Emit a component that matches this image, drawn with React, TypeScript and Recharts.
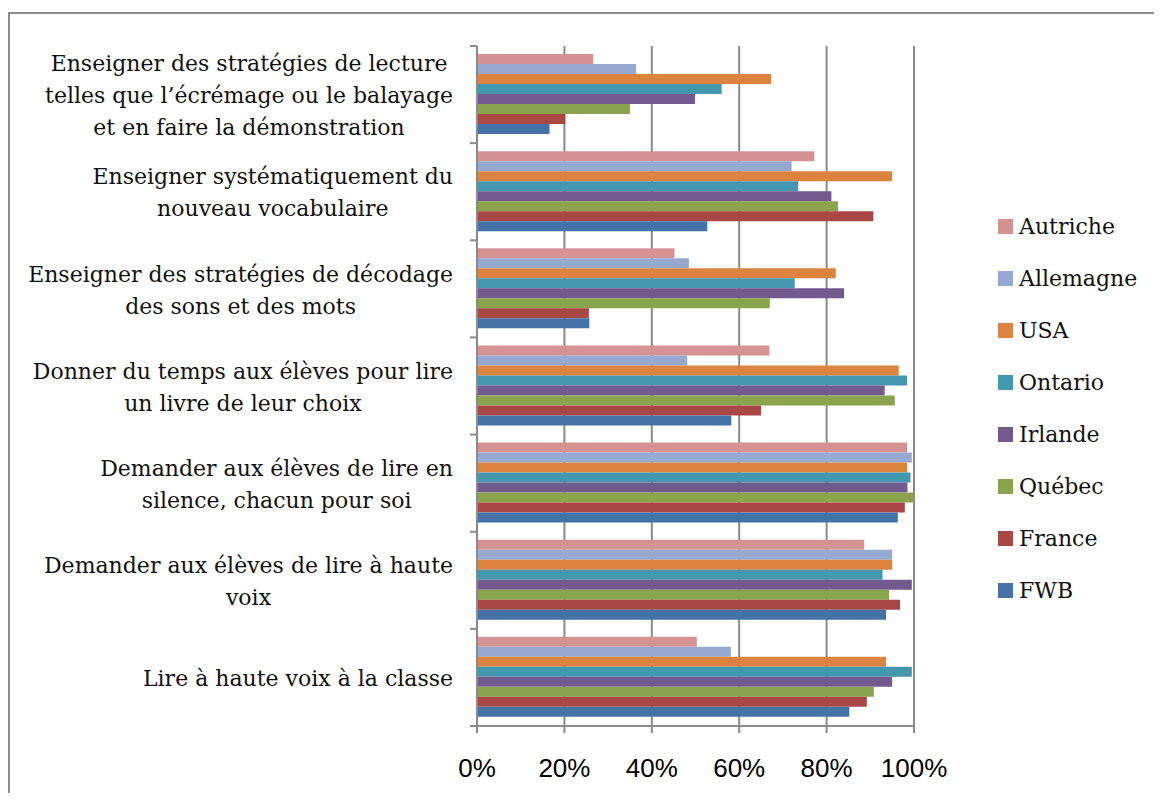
import { BarChart, Bar, XAxis, YAxis, CartesianGrid, Legend } from 'recharts';

const categories = [
  'Enseigner des stratégies de lecture\ntelles que l’écrémage ou le balayage\net en faire la démonstration',
  'Enseigner systématiquement du\nnouveau vocabulaire',
  'Enseigner des stratégies de décodage\ndes sons et des mots',
  'Donner du temps aux élèves pour lire\nun livre de leur choix',
  'Demander aux élèves de lire en\nsilence, chacun pour soi',
  'Demander aux élèves de lire à haute\nvoix',
  'Lire à haute voix à la classe',
];

const autriche = [26.6, 77.2, 45.2, 66.9, 98.4, 88.6, 50.3];
const allemagne = [36.4, 72.0, 48.5, 48.1, 99.5, 95.0, 58.1];
const usa = [67.3, 95.0, 82.1, 96.5, 98.4, 95.0, 93.6];
const ontario = [56.0, 73.5, 72.7, 98.4, 99.2, 92.8, 99.5];
const irlande = [49.9, 81.1, 84.0, 93.3, 98.5, 99.5, 95.0];
const quebec = [35.0, 82.6, 67.0, 95.6, 100, 94.3, 90.8];
const france = [20.2, 90.7, 25.6, 65.0, 97.9, 96.8, 89.2];
const fwb = [16.6, 52.7, 25.7, 58.2, 96.3, 93.6, 85.2];

const xTicks = [0, 20, 40, 60, 80, 100];

const series = [
  { key: 'Autriche', values: autriche, color: '#D49392' },
  { key: 'Allemagne', values: allemagne, color: '#95A9D1' },
  { key: 'USA', values: usa, color: '#DC843F' },
  { key: 'Ontario', values: ontario, color: '#4398AF' },
  { key: 'Irlande', values: irlande, color: '#725A8F' },
  { key: 'Québec', values: quebec, color: '#8AA44D' },
  { key: 'France', values: france, color: '#A94745' },
  { key: 'FWB', values: fwb, color: '#4572A7' },
];

const data = categories.map((label, i) => {
  const row: Record<string, string | number> = { label };
  series.forEach((s) => {
    row[s.key] = s.values[i];
  });
  return row;
});

const serif = "'DejaVu Serif', serif";
const labelSize = 22;
const lineHeight = 32;
const bandHeight = 680 / 7;

let ctx: CanvasRenderingContext2D | null = null;
function textWidth(t: string) {
  if (!ctx) ctx = document.createElement('canvas').getContext('2d');
  if (!ctx) return t.length * labelSize * 0.5;
  ctx.font = `${labelSize}px ${serif}`;
  return ctx.measureText(t).width;
}

function CategoryTick(props: any) {
  const { x, y, payload, index } = props;
  const lines = String(payload.value).split('\n');
  const blockW = Math.max(...lines.map(textWidth));
  const cx = x - 16 - blockW / 2;
  const startY = y + 1 - ((lines.length - 1) * lineHeight) / 2;
  const top = y - bandHeight / 2;
  return (
    <g>
      <line x1={x + 1} x2={x + 8} y1={top} y2={top} stroke="#8a8a8a" strokeWidth={2} />
      {index === categories.length - 1 && (
        <line x1={x + 1} x2={x + 8} y1={y + bandHeight / 2} y2={y + bandHeight / 2} stroke="#8a8a8a" strokeWidth={2} />
      )}
      <text textAnchor="middle" fontFamily={serif} fontSize={labelSize} fill="#111">
        {lines.map((l, i) => (
          <tspan key={i} x={cx} y={startY + i * lineHeight} dy="0.35em">
            {l}
          </tspan>
        ))}
      </text>
    </g>
  );
}

function LegendBox() {
  return (
    <div style={{ fontFamily: serif, fontSize: 22, color: '#111' }}>
      {series.map((s) => (
        <div key={s.key} style={{ height: 52, display: 'flex', alignItems: 'center' }}>
          <span style={{ width: 15, height: 15, background: s.color, display: 'inline-block', marginRight: 6 }} />
          <span>{s.key}</span>
        </div>
      ))}
    </div>
  );
}

export default function App() {
  return (
    <div style={{ position: 'relative', width: 1154, height: 785 }}>
      <div
        style={{
          position: 'absolute',
          left: 0,
          top: 4,
          width: 1154,
          height: 781,
          borderTop: '2px solid #8c8c8c',
          borderLeft: '2px solid #8c8c8c',
          boxSizing: 'border-box',
        }}
      />
      <div style={{ position: 'absolute', left: 0, top: 0 }}>
        <BarChart
          width={1154}
          height={785}
          data={data}
          layout="vertical"
          margin={{ top: 38, right: 248, bottom: 0, left: 0 }}
          barCategoryGap={8}
          barGap={0}
        >
          <CartesianGrid horizontal={false} stroke="#8a8a8a" strokeWidth={2} />
          <XAxis
            type="number"
            domain={[0, 100]}
            ticks={xTicks}
            tickFormatter={(v) => `${v}%`}
            stroke="#8a8a8a"
            strokeWidth={2}
            tickSize={7}
            tickMargin={26}
            height={67}
            tick={{ fill: '#000', fontSize: 26, fontFamily: "'Liberation Sans', Arial, sans-serif" }}
          />
          <YAxis
            type="category"
            dataKey="label"
            width={469}
            stroke="#8a8a8a"
            strokeWidth={2}
            tickLine={false}
            tick={<CategoryTick />}
            interval={0}
          />
          <Legend
            layout="vertical"
            align="center"
            verticalAlign="middle"
            content={<LegendBox />}
            wrapperStyle={{ left: 990, top: 192, width: 160 }}
          />
          {series.map((s) => (
            <Bar key={s.key} dataKey={s.key} fill={s.color} isAnimationActive={false} />
          ))}
        </BarChart>
      </div>
    </div>
  );
}
